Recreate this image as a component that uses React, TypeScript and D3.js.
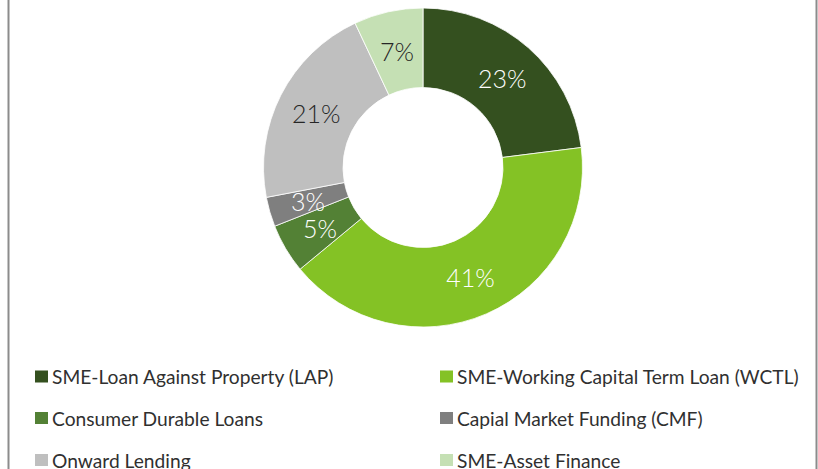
import React from "react";
import * as d3 from "d3";

const categories = [
  "SME-Loan Against Property (LAP)",
  "SME-Working Capital Term Loan (WCTL)",
  "Consumer Durable Loans",
  "Capial Market Funding (CMF)",
  "Onward Lending",
  "SME-Asset Finance",
];
const values = [23, 41, 5, 3, 21, 7];
const labels = ["23%", "41%", "5%", "3%", "21%", "7%"];
const colors = ["#34501F", "#84C225", "#538135", "#7F7F7F", "#BFBFBF", "#C5E0B4"];
const labelColors = ["#ffffff", "#ffffff", "#ffffff", "#ffffff", "#262626", "#262626"];

const W = 818;
const H = 469;
const cx = 423;
const cy = 167.5;
const rOuter = 159.5;
const rInner = 80;

export default function App() {
  const pie = d3.pie<number>().sort(null).value((d) => d)(values);
  const arc = d3.arc<d3.PieArcDatum<number>>().innerRadius(rInner).outerRadius(rOuter);
  const legendX = [35, 440];
  const legendY = [376.5, 418, 460];
  return (
    <svg
      width={W}
      height={H}
      style={{ position: "absolute", left: 0, top: 0, background: "#fff" }}
      fontFamily="Lato, 'Open Sans', sans-serif"
    >
      <line x1={8.5} x2={8.5} y1={-5} y2={H + 5} stroke="#8C8C8C" strokeWidth={2} />
      <line x1={816.5} x2={816.5} y1={-5} y2={H + 5} stroke="#8C8C8C" strokeWidth={2} />
      <g transform={`translate(${cx},${cy})`}>
        {pie.map((p, i) => (
          <path key={i} d={arc(p) || ""} fill={colors[i]} stroke="#fff" strokeWidth={0.8} />
        ))}
        {pie.map((p, i) => {
          const [x, y] = arc.centroid(p);
          return (
            <text
              key={"l" + i}
              x={x}
              y={y}
              textAnchor="middle"
              dominantBaseline="central"
              fontSize={25}
              fontWeight={300}
              fill={labelColors[i]}
            >
              {labels[i]}
            </text>
          );
        })}
      </g>
      {categories.map((c, i) => {
        const col = i % 2;
        const row = Math.floor(i / 2);
        const x = legendX[col];
        const y = legendY[row];
        return (
          <g key={"lg" + i}>
            <rect x={x} y={y - 6} width={13} height={12} fill={colors[i]} />
            <text x={x + 17} y={y} dominantBaseline="central" fontSize={19.2} fill="#303030">
              {c}
            </text>
          </g>
        );
      })}
    </svg>
  );
}
